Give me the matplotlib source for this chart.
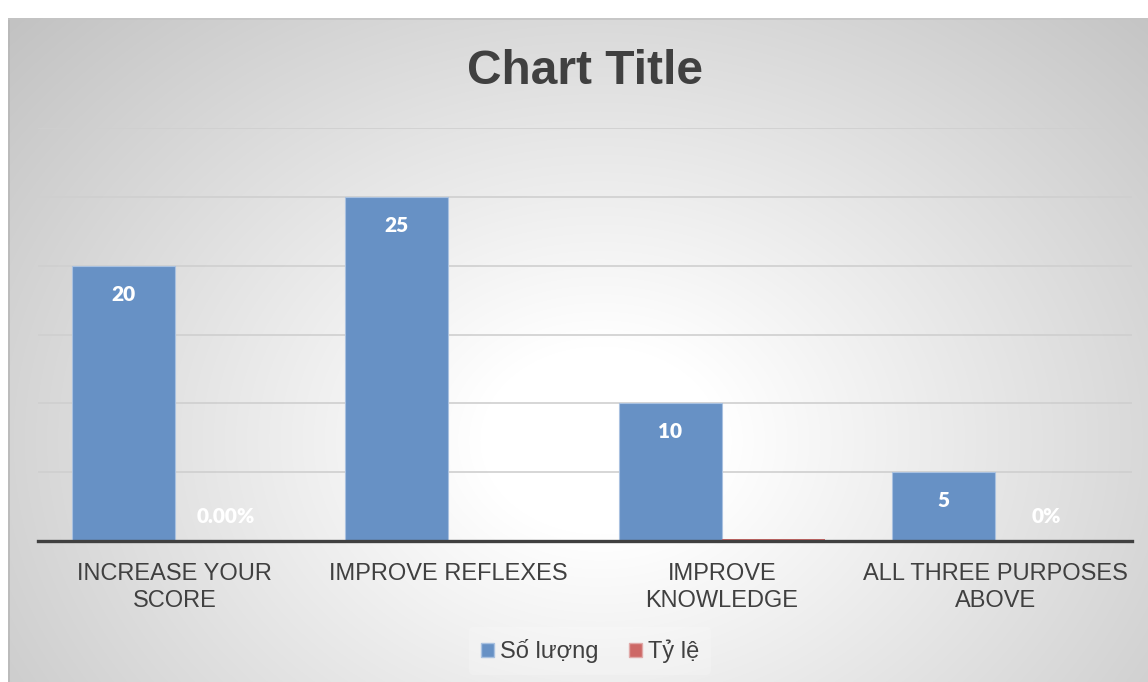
import numpy as np
import matplotlib
matplotlib.use("Agg")
import matplotlib.pyplot as plt
from matplotlib.patches import Rectangle

# ---- data ----
categories = ["INCREASE YOUR\nSCORE", "IMPROVE REFLEXES", "IMPROVE\nKNOWLEDGE", "ALL THREE PURPOSES\nABOVE"]
so_luong = [20, 25, 10, 5]
ty_le = [0, 0, 0.15, 0]
ty_le_labels = ["0.00%", "", "", "0%"]
series_names = ["Số lượng", "Tỷ lệ"]
title = "Chart Title"

FONT = ["Liberation Sans", "DejaVu Sans"]
plt.rcParams['font.family'] = FONT

W, H = 1148, 682
fig = plt.figure(figsize=(W / 100, H / 100), dpi=100)
fig.patch.set_facecolor("white")

# background chart area with radial gradient
x0, y0 = 8, 18
bg = fig.add_axes([x0 / W, 0, (W - x0) / W, (H - y0) / H])
bg.set_axis_off()
gw, gh = W - x0, H - y0
yy, xx = np.mgrid[0:gh, 0:gw]
cx, cy = 600 - x0, 440 - y0
r = np.sqrt(((xx - cx) / 600.0) ** 2 + ((yy - cy) / 470.0) ** 2)
val = 255 - 54 * np.clip(r - 0.2, 0, None)
val = np.clip(val, 190, 255) / 255.0
img = np.dstack([val, val, val])
bg.imshow(img, aspect="auto", extent=[0, gw, gh, 0], interpolation="bilinear")
bg.set_xlim(0, gw)
bg.set_ylim(gh, 0)
bg.plot([0.5, 0.5], [0, gh], color="#b8b8b8", lw=1.2)
bg.plot([0, gw], [0.5, 0.5], color="#c4c4c4", lw=1.2)

# main axes
left, right, top, base = 38, 1132, 128, 541
ax = fig.add_axes([left / W, (H - base) / H, (right - left) / W, (base - top) / H])
ax.patch.set_alpha(0)
ax.set_xlim(-0.5, 3.5)
ax.set_ylim(0, 30)
for s in ["top", "right", "left"]:
    ax.spines[s].set_visible(False)
ax.spines["bottom"].set_color("#404040")
ax.spines["bottom"].set_linewidth(2.4)
ax.spines["bottom"].set_zorder(5)
ax.set_yticks([0, 5, 10, 15, 20, 25, 30])
ax.tick_params(axis="y", length=0, labelleft=False)
ax.yaxis.grid(True, color="#cfcfcf", lw=1.2)
ax.set_axisbelow(True)

x = np.arange(len(categories))
bw = 0.376
blue = "#6791c5"
red = "#cd6866"
b1 = ax.bar(x - bw / 2, so_luong, bw, color=blue, edgecolor="#a9c1e0", lw=0.8, zorder=3)
b2 = ax.bar(x + bw / 2, ty_le, bw, color=red, edgecolor="none", zorder=3)

lblfont = ["Lato", "DejaVu Sans"]
for rect, v in zip(b1, so_luong):
    ax.annotate(str(v), (rect.get_x() + rect.get_width() / 2, v), xytext=(0, -20.5),
                textcoords="offset points", ha="center", va="center",
                color="white", fontsize=15, fontweight="heavy", family=lblfont, zorder=6)
for rect, v, lab in zip(b2, ty_le, ty_le_labels):
    if lab:
        ax.annotate(lab, (rect.get_x() + rect.get_width() / 2, 0), xytext=(0, 17.5),
                    textcoords="offset points", ha="center", va="center",
                    color="white", fontsize=15, fontweight="heavy", family=lblfont, zorder=6)

ax.set_xticks(x)
ax.set_xticklabels(categories, fontsize=17, color="#404040", linespacing=1.3)
ax.tick_params(axis="x", length=0, pad=16)

fig.text(585 / W, 1 - 71 / H, title, ha="center", va="center", fontsize=34.5,
         fontweight="bold", color="#404040")

handles = [Rectangle((0, 0), 1, 1, facecolor=blue, edgecolor="#a9c1e0"),
           Rectangle((0, 0), 1, 1, facecolor=red, edgecolor="#e0a9a8")]
leg = fig.legend(handles, series_names, loc="center", bbox_to_anchor=(590 / W, 1 - 651 / H),
                 ncol=2, frameon=True, fontsize=17, handlelength=0.55, handleheight=0.55,
                 handletextpad=0.25, columnspacing=1.3, borderpad=0.5)
leg.get_frame().set_facecolor("white")
leg.get_frame().set_alpha(0.2)
leg.get_frame().set_edgecolor("none")
for t in leg.get_texts():
    t.set_color("#404040")

fig.savefig("out.png", dpi=100)
